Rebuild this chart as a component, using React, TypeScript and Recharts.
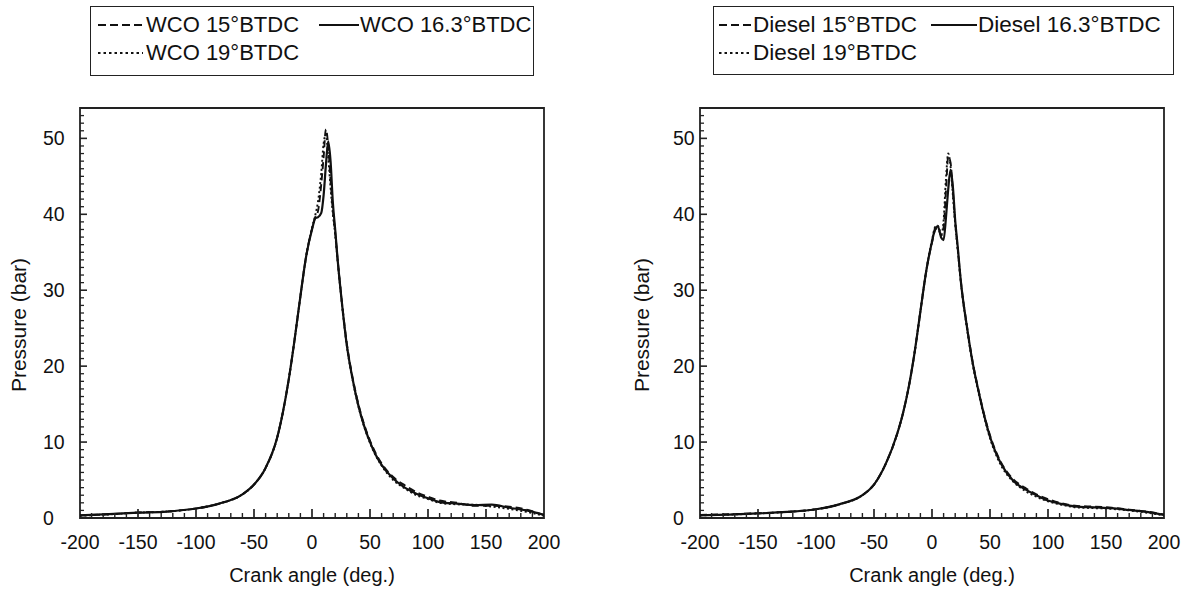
import React from 'react';
import { LineChart, Line, XAxis, YAxis, ReferenceArea } from 'recharts';

const angles = [-200, -175, -150, -125, -100, -80, -60, -50, -40, -30, -25, -20, -15, -10, -5, 0, 3, 5, 8, 10, 12, 14, 16, 18, 20, 22, 25, 30, 35, 40, 45, 50, 55, 60, 70, 80, 90, 100, 110, 125, 140, 155, 170, 185, 200];

const wco15 = [0.35, 0.5, 0.72, 0.85, 1.25, 1.9, 3.1, 4.4, 6.6, 10.6, 14.0, 18.3, 23.5, 29.2, 34.5, 38.1, 39.7, 40.3, 44.0, 47.5, 51.2, 49.0, 44.5, 40.5, 37.6, 34.2, 29.6, 23.0, 18.5, 15.0, 12.3, 10.2, 8.5, 7.2, 5.4, 4.3, 3.4, 2.8, 2.3, 2.0, 1.6, 1.6, 1.5, 1.1, 0.4];
const wco163 = [0.35, 0.5, 0.7, 0.85, 1.25, 1.9, 3.1, 4.4, 6.6, 10.6, 14.0, 18.3, 23.5, 29.2, 34.5, 38.0, 39.5, 39.6, 40.2, 42.5, 46.5, 49.6, 47.0, 41.5, 38.0, 34.2, 29.5, 22.8, 18.3, 14.8, 12.1, 10.0, 8.3, 7.0, 5.2, 4.0, 3.2, 2.6, 2.1, 1.9, 1.7, 1.75, 1.35, 1.0, 0.4];
const wco19 = [0.3, 0.48, 0.7, 0.85, 1.25, 1.9, 3.1, 4.4, 6.6, 10.6, 14.0, 18.3, 23.5, 29.2, 34.5, 38.2, 40.0, 41.5, 45.5, 49.3, 50.5, 47.5, 43.5, 40.0, 37.3, 34.0, 29.4, 22.7, 18.2, 14.7, 12.0, 9.9, 8.2, 6.9, 5.0, 3.9, 3.0, 2.5, 2.0, 1.8, 1.75, 1.5, 1.2, 0.8, 0.3];

const diesel15 = [0.4, 0.5, 0.62, 0.82, 1.15, 1.8, 3.0, 4.4, 7.1, 11.1, 13.8, 17.3, 21.8, 27.2, 32.5, 36.3, 38.0, 38.2, 37.2, 38.3, 43.0, 47.6, 46.8, 43.0, 39.0, 35.8, 31.0, 25.4, 20.6, 16.9, 13.6, 10.9, 8.8, 7.2, 5.1, 4.0, 3.1, 2.5, 2.0, 1.6, 1.5, 1.35, 1.1, 0.85, 0.45];
const diesel163 = [0.35, 0.45, 0.6, 0.8, 1.15, 1.8, 3.0, 4.4, 7.1, 11.1, 13.8, 17.3, 21.8, 27.2, 32.5, 36.4, 38.2, 38.4, 36.9, 36.6, 39.5, 43.3, 45.9, 43.6, 39.2, 36.0, 31.0, 25.3, 20.5, 16.8, 13.5, 10.7, 8.6, 7.0, 4.9, 3.8, 3.0, 2.3, 1.9, 1.5, 1.4, 1.3, 1.05, 0.8, 0.4];
const diesel19 = [0.35, 0.45, 0.6, 0.8, 1.15, 1.8, 3.0, 4.4, 7.1, 11.1, 13.8, 17.3, 21.8, 27.2, 32.5, 36.6, 38.4, 38.5, 37.4, 39.2, 44.6, 48.0, 46.3, 42.5, 38.7, 35.6, 30.8, 25.1, 20.3, 16.6, 13.3, 10.5, 8.4, 6.8, 4.8, 3.6, 2.8, 2.2, 1.8, 1.4, 1.3, 1.2, 1.0, 0.7, 0.35];

const xLabelTicks = [-200, -150, -100, -50, 0, 50, 100, 150, 200];
const xAllTicks = [-200, -190, -180, -170, -160, -150, -140, -130, -120, -110, -100, -90, -80, -70, -60, -50, -40, -30, -20, -10, 0, 10, 20, 30, 40, 50, 60, 70, 80, 90, 100, 110, 120, 130, 140, 150, 160, 170, 180, 190, 200];
const yLabelTicks = [0, 10, 20, 30, 40, 50];
const yAllTicks = [0, 1, 2, 3, 4, 5, 6, 7, 8, 9, 10, 11, 12, 13, 14, 15, 16, 17, 18, 19, 20, 21, 22, 23, 24, 25, 26, 27, 28, 29, 30, 31, 32, 33, 34, 35, 36, 37, 38, 39, 40, 41, 42, 43, 44, 45, 46, 47, 48, 49, 50, 51, 52, 53, 54];

const wcoNames = ['WCO 15°BTDC', 'WCO 16.3°BTDC', 'WCO 19°BTDC'];
const dieselNames = ['Diesel 15°BTDC', 'Diesel 16.3°BTDC', 'Diesel 19°BTDC'];

const FONT = '"Liberation Sans", Arial, Helvetica, sans-serif';
const INK = '#111';
const DASHES = ['7 4', '', '2 2.5'];
const X_TICK_MARGIN = 17;

function buildData(a: number[], b: number[], c: number[]) {
  return angles.map((angle, i) => ({ angle, s15: a[i], s163: b[i], s19: c[i] }));
}

const wcoData = buildData(wco15, wco163, wco19);
const dieselData = buildData(diesel15, diesel163, diesel19);

type LegendLayout = {
  left: number;
  width: number;
  height: number;
  fontSize: number;
  sampleLeft: number;
  sampleWidth: number;
  textLeft: number;
  sample2Left: number;
  sample2Width: number;
  text2Left: number;
};

type PanelProps = {
  data: { angle: number; s15: number; s163: number; s19: number }[];
  names: string[];
  left: number;
  tickLabelShift: number;
  yTitleX: number;
  legend: LegendLayout;
};

function LegendSample({ dash, width }: { dash: string; width: number }) {
  return (
    <svg width={width} height={10} style={{ display: 'block' }}>
      <line
        x1={0}
        y1={5}
        x2={width}
        y2={5}
        stroke={INK}
        strokeWidth={dash === '' ? 2 : 1.8}
        strokeDasharray={dash === '' ? undefined : dash === '7 4' ? '8 4' : '2.5 3'}
      />
    </svg>
  );
}

function XTick(props: any) {
  const { x, y, payload } = props;
  const v = payload.value as number;
  const major = xLabelTicks.includes(v);
  const base = y - X_TICK_MARGIN;
  const len = major ? 9 : 5;
  const showLine = v !== -200 && v !== 200;
  return (
    <g>
      {showLine && <line x1={x} y1={base} x2={x} y2={base - len} stroke="#222" strokeWidth={major ? 1.7 : 1.4} />}
      {major && (
        <text x={x} y={y} dy="0.71em" textAnchor="middle" fontSize={19.5} fontFamily={FONT} fill={INK}>
          {v}
        </text>
      )}
    </g>
  );
}

function Panel(p: PanelProps) {
  const renderYTick = (props: any) => {
    const { x, y, payload } = props;
    const v = payload.value as number;
    const major = yLabelTicks.includes(v);
    const len = major ? 7 : 4;
    return (
      <g>
        {v !== 0 && v !== 54 && <line x1={x} y1={y} x2={x + len} y2={y} stroke="#222" strokeWidth={major ? 1.6 : 1.3} />}
        {major && (
          <text x={x - p.tickLabelShift} y={y} dy="0.36em" textAnchor="start" fontSize={19.5} fontFamily={FONT} fill={INK}>
            {v}
          </text>
        )}
      </g>
    );
  };
  const yTitle = () => (
    <text x={p.yTitleX} y={325} transform={`rotate(-90 ${p.yTitleX} 325)`} textAnchor="middle" dominantBaseline="central" fontSize={21} fontFamily={FONT} fill={INK}>
      Pressure (bar)
    </text>
  );
  const xTitle = () => (
    <text x={312} y={582} textAnchor="middle" fontSize={20} fontFamily={FONT} fill={INK}>
      Crank angle (deg.)
    </text>
  );
  const lg = p.legend;
  return (
    <div style={{ position: 'absolute', left: p.left, top: 0, width: 600, height: 592 }}>
      <div
        style={{
          position: 'absolute',
          left: lg.left,
          top: 6,
          width: lg.width,
          height: lg.height,
          border: '1.8px solid #222',
          boxSizing: 'border-box',
          fontFamily: FONT,
          fontSize: lg.fontSize,
          color: INK,
          lineHeight: '24px',
        }}
      >
        <div style={{ position: 'absolute', left: lg.sampleLeft, top: 13 }}><LegendSample dash={DASHES[0]} width={lg.sampleWidth} /></div>
        <div style={{ position: 'absolute', left: lg.textLeft, top: 6, whiteSpace: 'nowrap' }}>{p.names[0]}</div>
        <div style={{ position: 'absolute', left: lg.sample2Left, top: 13 }}><LegendSample dash={DASHES[1]} width={lg.sample2Width} /></div>
        <div style={{ position: 'absolute', left: lg.text2Left, top: 6, whiteSpace: 'nowrap' }}>{p.names[1]}</div>
        <div style={{ position: 'absolute', left: lg.sampleLeft, top: 41 }}><LegendSample dash={DASHES[2]} width={lg.sampleWidth} /></div>
        <div style={{ position: 'absolute', left: lg.textLeft, top: 34, whiteSpace: 'nowrap' }}>{p.names[2]}</div>
      </div>
      <LineChart width={600} height={592} data={p.data} margin={{ top: 108, right: 56, bottom: 44, left: 20 }}>
        <XAxis
          dataKey="angle"
          type="number"
          domain={[-200, 200]}
          ticks={xAllTicks}
          interval={0}
          allowDataOverflow
          axisLine={false}
          tickLine={false}
          tickSize={0}
          tickMargin={X_TICK_MARGIN}
          height={30}
          tick={XTick}
          label={xTitle}
        />
        <YAxis
          type="number"
          domain={[0, 54]}
          ticks={yAllTicks}
          interval={0}
          allowDataOverflow
          axisLine={false}
          tickLine={false}
          tickSize={0}
          tickMargin={0}
          width={60}
          tick={renderYTick}
          label={yTitle}
        />
        <ReferenceArea x1={-200} x2={200} y1={0} y2={54} fill="none" fillOpacity={0} stroke="#222" strokeWidth={1.8} ifOverflow="visible" />
        <Line dataKey="s163" type="monotone" stroke={INK} strokeWidth={2.2} dot={false} isAnimationActive={false} />
        <Line dataKey="s15" type="monotone" stroke={INK} strokeWidth={1.9} strokeDasharray={DASHES[0]} dot={false} isAnimationActive={false} />
        <Line dataKey="s19" type="monotone" stroke={INK} strokeWidth={1.9} strokeDasharray={DASHES[2]} dot={false} isAnimationActive={false} />
      </LineChart>
    </div>
  );
}

export default function App() {
  return (
    <div style={{ position: 'absolute', left: 0, top: 0, width: 1195, height: 592, background: '#fff', overflow: 'hidden' }}>
      <Panel
        data={wcoData}
        names={wcoNames}
        left={0}
        tickLabelShift={37}
        yTitleX={18}
        legend={{ left: 90, width: 444, height: 70, fontSize: 22, sampleLeft: 7, sampleWidth: 45, textLeft: 55, sample2Left: 228, sample2Width: 40, text2Left: 269 }}
      />
      <Panel
        data={dieselData}
        names={dieselNames}
        left={620}
        tickLabelShift={27}
        yTitleX={21}
        legend={{ left: 93, width: 461, height: 69, fontSize: 22.5, sampleLeft: 5, sampleWidth: 33, textLeft: 39, sample2Left: 217, sample2Width: 46, text2Left: 264 }}
      />
    </div>
  );
}
